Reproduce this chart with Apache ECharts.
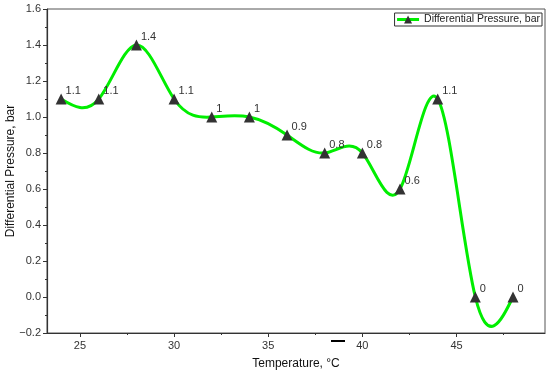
<!DOCTYPE html>
<html>
<head>
<meta charset="utf-8">
<script src="https://cdn.jsdelivr.net/npm/echarts@6/dist/echarts.min.js"></script>
<style>html,body{margin:0;padding:0;background:#fff}#c{width:550px;height:376px}</style>
</head>
<body>
<div id="c"></div>
<script>
const temperatures = [24, 26, 28, 30, 32, 34, 36, 38, 40, 42, 44, 46, 48];
const pressures = [1.1, 1.1, 1.4, 1.1, 1.0, 1.0, 0.9, 0.8, 0.8, 0.6, 1.1, 0, 0];
const pointLabels = ['1.1', '1.1', '1.4', '1.1', '1', '1', '0.9', '0.8', '0.8', '0.6', '1.1', '0', '0'];
const xMajorTicks = [25, 30, 35, 40, 45];
const xMinorTicks = [27.5, 32.5, 37.5, 42.5, 47.5];
const seriesName = 'Differential Pressure, bar';
const xTitle = 'Temperature, °C';
const yTitle = 'Differential Pressure, bar';

const font = 'Liberation Sans, Arial, sans-serif';
const green = '#00ee00';

// natural cubic spline slopes (data space) for the connecting curve
function splineSlopes(xs, ys) {
  const n = xs.length;
  const h = [], a = [], b = [], c = [], d = [];
  for (let i = 0; i < n - 1; i++) h.push(xs[i + 1] - xs[i]);
  const M = new Array(n).fill(0);
  const m = n - 2;
  for (let i = 1; i < n - 1; i++) {
    a.push(h[i - 1]); b.push(2 * (h[i - 1] + h[i])); c.push(h[i]);
    d.push(6 * ((ys[i + 1] - ys[i]) / h[i] - (ys[i] - ys[i - 1]) / h[i - 1]));
  }
  for (let i = 1; i < m; i++) {
    const w = a[i] / b[i - 1];
    b[i] -= w * c[i - 1]; d[i] -= w * d[i - 1];
  }
  const sol = new Array(m);
  sol[m - 1] = d[m - 1] / b[m - 1];
  for (let i = m - 2; i >= 0; i--) sol[i] = (d[i] - c[i] * sol[i + 1]) / b[i];
  for (let i = 0; i < m; i++) M[i + 1] = sol[i];
  const slopes = [];
  for (let i = 0; i < n; i++) {
    if (i < n - 1) slopes.push((ys[i + 1] - ys[i]) / h[i] - h[i] * (2 * M[i] + M[i + 1]) / 6);
    else slopes.push((ys[i] - ys[i - 1]) / h[i - 1] + h[i - 1] * (2 * M[i] + M[i - 1]) / 6);
  }
  return slopes;
}
const slopes = splineSlopes(temperatures, pressures);

const chart = echarts.init(document.getElementById('c'), null, {renderer: 'canvas'});
const xMin = 23.25, xMax = 49.7;
chart.setOption({
  animation: false,
  grid: {left: 47, right: 5, top: 9, bottom: 43, show: true, borderColor: '#555', borderWidth: 1,
    containLabel: false, outerBoundsMode: 'none'},
  legend: {
    right: 8, top: 13, padding: [1, 2, 1, 1], itemGap: 0,
    borderColor: '#333', borderWidth: 1, borderRadius: 0,
    itemWidth: 22, itemHeight: 10,
    textStyle: {fontFamily: font, fontSize: 10.5, color: '#222'},
    data: [{name: seriesName, lineStyle: {color: green, width: 3, opacity: 1}}]
  },
  xAxis: [{
    type: 'value', min: xMin, max: xMax,
    name: xTitle, nameLocation: 'middle', nameGap: 25,
    nameTextStyle: {fontFamily: font, fontSize: 12, color: '#111'},
    axisLine: {onZero: false, lineStyle: {color: '#333', width: 1.2}},
    axisTick: {show: true, inside: false, length: 4, customValues: xMajorTicks, lineStyle: {color: '#333'}},
    axisLabel: {customValues: xMajorTicks, margin: 7, fontFamily: font, fontSize: 11, color: '#333'},
    splitLine: {show: false}
  }, {
    type: 'value', min: xMin, max: xMax, position: 'bottom',
    axisLine: {show: false, onZero: false},
    axisTick: {show: true, inside: false, length: 2, customValues: xMinorTicks, lineStyle: {color: '#333'}},
    axisLabel: {show: false},
    splitLine: {show: false}
  }],
  yAxis: {
    type: 'value', min: -0.2, max: 1.6, interval: 0.2,
    name: yTitle, nameLocation: 'middle', nameGap: 30, nameRotate: 90, nameMoveOverlap: false,
    nameTextStyle: {fontFamily: font, fontSize: 12, color: '#111'},
    axisLine: {show: true, onZero: false, lineStyle: {color: '#333', width: 1.2}},
    axisTick: {show: true, inside: false, length: 4, lineStyle: {color: '#333'}},
    minorTick: {show: true, splitNumber: 2, length: 2, lineStyle: {color: '#333'}},
    axisLabel: {margin: 6, fontFamily: font, fontSize: 11, color: '#333',
      formatter: v => v.toFixed(1).replace('-', '−')},
    splitLine: {show: false}
  },
  series: [{
    name: 'spline', type: 'custom', xAxisIndex: 0, z: 1, silent: true,
    data: temperatures.slice(0, -1).map((t, i) => [t, pressures[i]]),
    renderItem: (params, api) => {
      const i = params.dataIndex;
      const h = temperatures[i + 1] - temperatures[i];
      const p0 = api.coord([temperatures[i], pressures[i]]);
      const c1 = api.coord([temperatures[i] + h / 3, pressures[i] + slopes[i] * h / 3]);
      const c2 = api.coord([temperatures[i + 1] - h / 3, pressures[i + 1] - slopes[i + 1] * h / 3]);
      const p1 = api.coord([temperatures[i + 1], pressures[i + 1]]);
      return {
        type: 'bezierCurve',
        shape: {x1: p0[0], y1: p0[1], cpx1: c1[0], cpy1: c1[1], cpx2: c2[0], cpy2: c2[1], x2: p1[0], y2: p1[1]},
        style: {stroke: green, lineWidth: 3, fill: null, lineCap: 'round'}
      };
    }
  }, {
    name: seriesName, type: 'line', xAxisIndex: 0, z: 3,
    data: temperatures.map((t, i) => [t, pressures[i]]),
    lineStyle: {color: green, width: 0, opacity: 0},
    itemStyle: {color: '#333'},
    symbol: 'triangle', symbolSize: 11,
    label: {
      show: true, position: 'right', distance: 0, offset: [-1, -8],
      fontFamily: font, fontSize: 11, color: '#333',
      formatter: p => pointLabels[p.dataIndex]
    }
  }],
  graphic: [{type: 'line', shape: {x1: 331, y1: 341, x2: 345, y2: 341}, style: {stroke: '#000', lineWidth: 2}}]
});
</script>
</body>
</html>
